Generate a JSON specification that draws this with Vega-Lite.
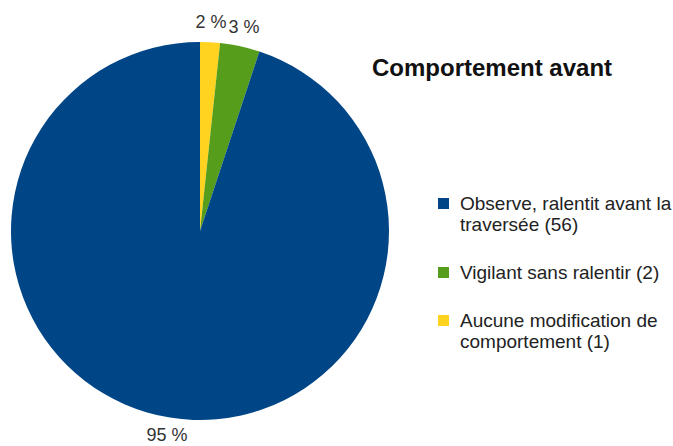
{
  "$schema": "https://vega.github.io/schema/vega-lite/v6.json",
  "width": 400,
  "height": 462,
  "autosize": "none",
  "padding": {"left": 0, "top": 0, "right": 273, "bottom": 0},
  "background": "white",
  "config": {"view": {"stroke": null}},
  "title": {"text": "Comportement avant", "anchor": "start", "frame": "group", "orient": "top", "offset": 0, "dx": 372, "dy": 100, "baseline": "alphabetic", "font": "Liberation Sans", "fontSize": 24, "fontWeight": "bold", "color": "#111111"},
  "data": {"values": [
    {"cat": "Aucune modification de comportement (1)", "n": 1, "ord": 1, "pct": "2 %"},
    {"cat": "Vigilant sans ralentir (2)", "n": 2, "ord": 2, "pct": "3 %"},
    {"cat": "Observe, ralentit avant la traversée (56)", "n": 56, "ord": 3, "pct": "95 %"}
  ]},
  "encoding": {
    "theta": {"field": "n", "type": "quantitative", "stack": true},
    "order": {"field": "ord", "type": "quantitative"}
  },
  "layer": [
    {
      "mark": {"type": "arc", "outerRadius": 189},
      "encoding": {
        "color": {
          "field": "cat", "type": "nominal",
          "scale": {"domain": ["Observe, ralentit avant la traversée (56)", "Vigilant sans ralentir (2)", "Aucune modification de comportement (1)"], "range": ["#004586", "#579d1c", "#ffd320"]},
          "legend": {
            "orient": "none", "legendX": 434, "legendY": 194, "title": null, "padding": 0,
            "symbolType": "square", "symbolSize": 121, "symbolStrokeWidth": 0,
            "labelFont": "Liberation Sans", "labelFontSize": 19, "labelColor": "#222222", "labelLimit": 0, "labelOffset": 7,
            "rowPadding": 28,
            "labelExpr": "datum.label == 'Observe, ralentit avant la traversée (56)' ? ['Observe, ralentit avant la', 'traversée (56)'] : datum.label == 'Aucune modification de comportement (1)' ? ['Aucune modification de', 'comportement (1)'] : datum.label"
          }
        }
      }
    },
    {
      "mark": {"type": "text", "radius": 208, "fontSize": 18, "font": "Liberation Sans", "color": "#333333"},
      "encoding": {"text": {"field": "pct", "type": "nominal"}}
    }
  ]
}
